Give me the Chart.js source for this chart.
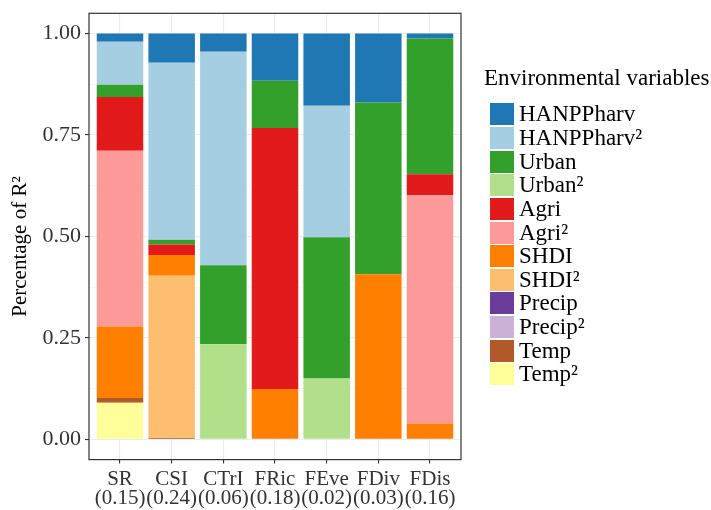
<!DOCTYPE html>
<html>
<head>
<meta charset="utf-8">
<script src="https://cdn.jsdelivr.net/npm/chart.js@4.4.1/dist/chart.umd.min.js"></script>
<style>
  html, body { margin: 0; padding: 0; background: #ffffff; }
  #wrap { position: relative; width: 711px; height: 510px; overflow: hidden; }
  #plot { position: absolute; left: 0; top: 0; }
  #legend { position: absolute; left: 0; top: 0; width: 711px; height: 510px; pointer-events: none;
            font-family: "Liberation Serif", "Times New Roman", serif; color: #000; }
  #legend .title { position: absolute; left: 484px; top: 64px; font-size: 23px; line-height: 28px; white-space: nowrap; }
  #legend .item { position: absolute; left: 490px; height: 22px; white-space: nowrap; }
  #legend .swatch { position: absolute; left: 0; top: 0; width: 24px; height: 22px; }
  #legend .label { position: absolute; left: 29px; top: 0; font-size: 23px; line-height: 22px; }
</style>
</head>
<body>
<div id="wrap">
  <canvas id="plot" width="711" height="510"></canvas>
  <div id="legend"></div>
</div>
<script>
// Diversity indices on the x axis and the total R² of each model
const indices = ['SR', 'CSI', 'CTrI', 'FRic', 'FEve', 'FDiv', 'FDis'];
const totalR2 = [0.15, 0.24, 0.06, 0.18, 0.02, 0.03, 0.16];

// Y axis ticks (labelled) and minor grid positions
const yTicks = [0, 0.25, 0.5, 0.75, 1];
const yMinor = [0.125, 0.375, 0.625, 0.875];

// Environmental variables, legend order (top of the stack first)
const variables = ['HANPPharv', 'HANPPharv²', 'Urban', 'Urban²', 'Agri', 'Agri²',
                   'SHDI', 'SHDI²', 'Precip', 'Precip²', 'Temp', 'Temp²'];
const colors = ['#1F78B4', '#A6CEE3', '#33A02C', '#B2DF8A', '#E31A1C', '#FB9A99',
                '#FF7F00', '#FDBF6F', '#6A3D9A', '#CAB2D6', '#B15928', '#FFFF99'];

// Share of R² explained by each variable, per index (SR, CSI, CTrI, FRic, FEve, FDiv, FDis)
const HANPPharv  = [0.020, 0.072, 0.045, 0.116, 0.178, 0.170, 0.012];
const HANPPharv2 = [0.106, 0.436, 0.526, 0.000, 0.324, 0.000, 0.000];
const Urban      = [0.030, 0.012, 0.195, 0.117, 0.348, 0.423, 0.335];
const Urban2     = [0.000, 0.000, 0.234, 0.000, 0.150, 0.000, 0.000];
const Agri       = [0.133, 0.026, 0.000, 0.643, 0.000, 0.000, 0.051];
const Agri2      = [0.433, 0.000, 0.000, 0.000, 0.000, 0.000, 0.563];
const SHDI       = [0.176, 0.051, 0.000, 0.124, 0.000, 0.407, 0.039];
const SHDI2      = [0.000, 0.400, 0.000, 0.000, 0.000, 0.000, 0.000];
const Precip     = [0.000, 0.000, 0.000, 0.000, 0.000, 0.000, 0.000];
const Precip2    = [0.000, 0.000, 0.000, 0.000, 0.000, 0.000, 0.000];
const Temp       = [0.012, 0.003, 0.000, 0.000, 0.000, 0.000, 0.000];
const Temp2      = [0.090, 0.000, 0.000, 0.000, 0.000, 0.000, 0.000];

const shares = [HANPPharv, HANPPharv2, Urban, Urban2, Agri, Agri2,
                SHDI, SHDI2, Precip, Precip2, Temp, Temp2];

const yTitle = 'Percentage of R²';

const serif = '"Liberation Serif", "Times New Roman", serif';
const isMajor = v => yTicks.some(t => Math.abs(t - v) < 1e-9);

// Chart.js stacks the first dataset at the bottom, so build them bottom-up
const datasets = variables.map((name, i) => ({
  label: name,
  backgroundColor: colors[i],
  borderWidth: 0,
  stack: 'r2',
  data: shares[i].map((v, j) => ({ x: j, y: v })).filter(p => p.y > 0)
})).reverse();

// Dark frame round the plotting panel, plus the rotated y axis title
const panelFrame = {
  id: 'panelFrame',
  afterDatasetsDraw(chart) {
    const { ctx, chartArea: a } = chart;
    ctx.save();
    ctx.strokeStyle = '#333333';
    ctx.lineWidth = 1.2;
    ctx.strokeRect(a.left, a.top, a.right - a.left, a.bottom - a.top);
    ctx.restore();
  },
  afterDraw(chart) {
    const { ctx } = chart;
    ctx.save();
    ctx.translate(20, 246.5);
    ctx.rotate(-Math.PI / 2);
    ctx.fillStyle = '#000000';
    ctx.font = '21px ' + serif;
    ctx.textAlign = 'center';
    ctx.textBaseline = 'middle';
    ctx.fillText(yTitle, 0, 0);
    ctx.restore();
  }
};

new Chart(document.getElementById('plot'), {
  type: 'bar',
  data: { datasets },
  plugins: [panelFrame],
  options: {
    responsive: false,
    animation: false,
    layout: { padding: { left: 0, top: 13.3, right: 250, bottom: 0 } },
    plugins: { legend: { display: false }, tooltip: { enabled: false } },
    datasets: { bar: { categoryPercentage: 1, barPercentage: 0.9 } },
    scales: {
      x: {
        type: 'linear',
        stacked: true,
        offset: false,
        min: -0.6,
        max: 6.6,
        afterBuildTicks: s => { s.ticks = indices.map((_, i) => ({ value: i })); },
        afterFit: s => { s.height = 50.4; s.paddingLeft = 0; s.paddingRight = 0; },
        ticks: {
          autoSkip: false,
          maxRotation: 0,
          padding: 6,
          color: '#333333',
          font: { family: serif, size: 21, lineHeight: 0.93 },
          callback: v => [indices[v], '(' + totalR2[v].toFixed(2) + ')']
        },
        grid: { offset: false, color: '#EBEBEB', lineWidth: 1.1, tickColor: '#333333', tickLength: 4 },
        border: { display: false }
      },
      y: {
        type: 'linear',
        stacked: true,
        min: -0.05,
        max: 1.05,
        afterBuildTicks: s => {
          s.ticks = yTicks.concat(yMinor).sort((a, b) => a - b).map(v => ({ value: v }));
        },
        afterFit: s => { s.width = 89; s.paddingTop = 0; s.paddingBottom = 0; },
        ticks: {
          padding: 4,
          color: '#333333',
          font: { family: serif, size: 22 },
          callback: v => isMajor(v) ? v.toFixed(2) : ''
        },
        grid: {
          color: c => (c.tick && isMajor(c.tick.value)) ? '#EBEBEB' : '#F4F4F4',
          lineWidth: c => (c.tick && isMajor(c.tick.value)) ? 1.1 : 0.7,
          tickColor: c => (c.tick && isMajor(c.tick.value)) ? '#333333' : 'rgba(0,0,0,0)',
          tickLength: 4
        },
        border: { display: false },
        title: { display: false }
      }
    }
  }
});

// Legend: title and one swatch per variable
const legend = document.getElementById('legend');
const title = document.createElement('div');
title.className = 'title';
title.textContent = 'Environmental variables';
legend.appendChild(title);
variables.forEach((name, i) => {
  const item = document.createElement('div');
  item.className = 'item';
  item.style.top = (103.3 + i * 23.64) + 'px';
  const sw = document.createElement('div');
  sw.className = 'swatch';
  sw.style.background = colors[i];
  const lb = document.createElement('div');
  lb.className = 'label';
  lb.textContent = name;
  item.appendChild(sw);
  item.appendChild(lb);
  legend.appendChild(item);
});
</script>
</body>
</html>
